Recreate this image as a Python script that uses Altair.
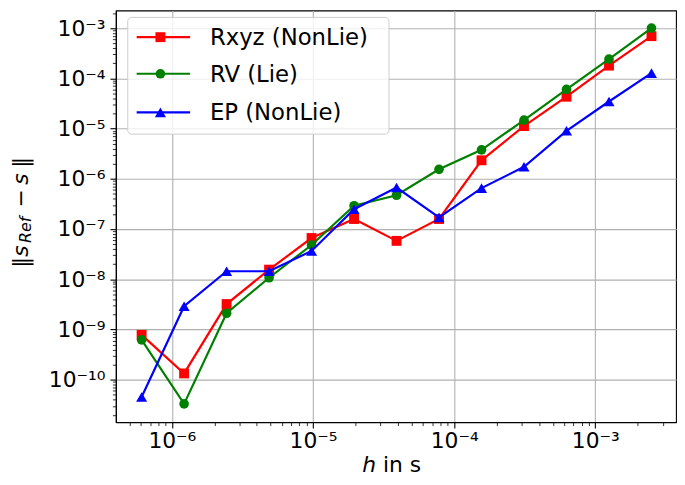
import altair as alt
import pandas as pd

# ---------------- data ----------------
h_values = [6.103515625e-07, 1.220703125e-06, 2.44140625e-06, 4.8828125e-06,
            9.765625e-06, 1.953125e-05, 3.90625e-05, 7.8125e-05,
            1.5625e-04, 3.125e-04, 6.25e-04, 1.25e-03, 2.5e-03]
rxyz_err = [7.8e-10, 1.33e-10, 3.2e-9, 1.55e-8, 6.6e-8, 1.58e-7, 5.8e-8,
            1.58e-7, 2.33e-6, 1.12e-5, 4.3e-5, 1.79e-4, 6.9e-4]
rv_err = [6.2e-10, 3.3e-11, 2.1e-9, 1.07e-8, 4.8e-8, 2.9e-7, 4.7e-7,
          1.54e-6, 3.77e-6, 1.47e-5, 6.0e-5, 2.41e-4, 1.0e-3]
ep_err = [4.5e-11, 2.9e-9, 1.44e-8, 1.44e-8, 3.65e-8, 2.48e-7, 6.7e-7,
          1.7e-7, 6.5e-7, 1.73e-6, 9.0e-6, 3.45e-5, 1.27e-4]

series_names = ["Rxyz (NonLie)", "RV (Lie)", "EP (NonLie)"]
series_values = [rxyz_err, rv_err, ep_err]
series_colors = ["#ff0000", "#008000", "#0000ff"]
series_shapes = ["square", "circle", "triangle-up"]
series_sizes = [100, 95, 125]

x_decades = [-6, -5, -4, -3]
y_decades = [-10, -9, -8, -7, -6, -5, -4, -3]
x_domain = [4.01e-7, 3.73e-3]
y_domain = [1.426e-11, 2.244e-3]

FONT = "DejaVu Sans"
W, H = 566, 416


def tick_values(domain, k_lo, k_hi):
    vals = []
    for k in range(k_lo, k_hi + 1):
        for m in range(1, 10):
            v = m * 10.0 ** k
            if domain[0] <= v <= domain[1]:
                vals.append(v)
    return vals


x_ticks = tick_values(x_domain, min(x_decades) - 1, max(x_decades))
y_ticks = tick_values(y_domain, min(y_decades) - 1, max(y_decades))

LOG = "(log(datum.value)/LN10)"
IS_DEC = f"abs({LOG} - round({LOG})) < 0.001"
LABEL_EXPR = (
    f"({IS_DEC}) ? '10\u207b' + (round({LOG}) <= -10 ? '\u00b9\u2070' : "
    f"substring('\u2070\u00b9\u00b2\u00b3\u2074\u2075\u2076\u2077\u2078\u2079', "
    f"-round({LOG}), 1 - round({LOG}))) : ''"
)


def make_axis(vals, orient):
    return alt.Axis(
        values=vals,
        orient=orient,
        title=None,
        labelExpr=LABEL_EXPR,
        labelOverlap=False,
        labelFlush=False,
        labelFont=FONT,
        labelFontSize=22,
        labelColor="black",
        labelPadding=5 if orient == "left" else 3,
        grid=True,
        gridColor="#b0b0b0",
        gridWidth=1.1,
        gridOpacity={"condition": {"test": IS_DEC, "value": 1}, "value": 0},
        ticks=True,
        tickColor="black",
        tickSize={"condition": {"test": IS_DEC, "value": 6}, "value": 3.5},
        tickWidth={"condition": {"test": IS_DEC, "value": 1.1}, "value": 0.8},
        domain=True,
        domainColor="black",
        domainWidth=1.1,
    )


x_enc = alt.X("h:Q", scale=alt.Scale(type="log", domain=x_domain, nice=False),
              axis=make_axis(x_ticks, "bottom"))
y_enc = alt.Y("err:Q", scale=alt.Scale(type="log", domain=y_domain, nice=False),
              axis=make_axis(y_ticks, "left"))

layers = []
for name, vals, col, shp, sz in zip(series_names, series_values, series_colors,
                                    series_shapes, series_sizes):
    df = pd.DataFrame({"h": h_values, "err": vals, "series": name})
    base = alt.Chart(df).encode(x=x_enc, y=y_enc)
    layers.append(base.mark_line(color=col, strokeWidth=2.2))
    layers.append(base.mark_point(shape=shp, filled=True, color=col, size=sz, opacity=1))

one = pd.DataFrame({"a": [0]})

# ---------------- legend (drawn by hand, upper left) ----------------
layers.append(
    alt.Chart(one).mark_rect(fill="white", fillOpacity=0.8, stroke="#cccccc",
                             strokeWidth=1, cornerRadius=4)
    .encode(x=alt.value(12), x2=alt.value(276), y=alt.value(7), y2=alt.value(125))
)
legend_rows = [27, 64, 103]
for name, col, shp, sz, yr in zip(series_names, series_colors, series_shapes,
                                   series_sizes, legend_rows):
    layers.append(alt.Chart(one).mark_rule(color=col, strokeWidth=2.2)
                  .encode(x=alt.value(21), x2=alt.value(75), y=alt.value(yr)))
    layers.append(alt.Chart(one).mark_point(shape=shp, filled=True, color=col,
                                            size=sz, opacity=1)
                  .encode(x=alt.value(45), y=alt.value(yr)))
    layers.append(alt.Chart(one).mark_text(text=name, align="left", baseline="middle",
                                           font=FONT, fontSize=23, color="black")
                  .encode(x=alt.value(95), y=alt.value(yr + 1)))

# ---------------- axis titles ----------------
# y title: ||s_Ref - s|| (rotated, reads bottom to top)
ytitle_parts = [
    ("\u2016", 22, "normal", -89, 260),
    ("s", 22, "italic", -89, 249),
    ("Ref", 16, "italic", -86, 235),
    ("\u2212", 22, "normal", -89, 199),
    ("s", 22, "italic", -89, 176),
    ("\u2016", 22, "normal", -89, 159),
]
for txt, fs, fst, xx, yy in ytitle_parts:
    layers.append(alt.Chart(one).mark_text(text=txt, angle=270, align="left",
                                           baseline="alphabetic", font=FONT,
                                           fontSize=fs, fontStyle=fst, color="black")
                  .encode(x=alt.value(xx), y=alt.value(yy)))

# x title: h in s
layers.append(alt.Chart(one).mark_text(text="h", align="right", baseline="alphabetic",
                                       font=FONT, fontSize=22, fontStyle="italic",
                                       color="black")
              .encode(x=alt.value(263), y=alt.value(466)))
layers.append(alt.Chart(one).mark_text(text="in s", align="left", baseline="alphabetic",
                                       font=FONT, fontSize=22, color="black")
              .encode(x=alt.value(270), y=alt.value(466)))

chart = alt.layer(*layers).properties(
    width=W, height=H,
    autosize=alt.AutoSizeParams(type="none"),
    padding={"left": 109, "top": 0, "right": 1, "bottom": 57},
).configure_view(stroke="black", strokeWidth=1.1)

chart.save("out.html", embed_options={"renderer": "svg", "actions": False})
